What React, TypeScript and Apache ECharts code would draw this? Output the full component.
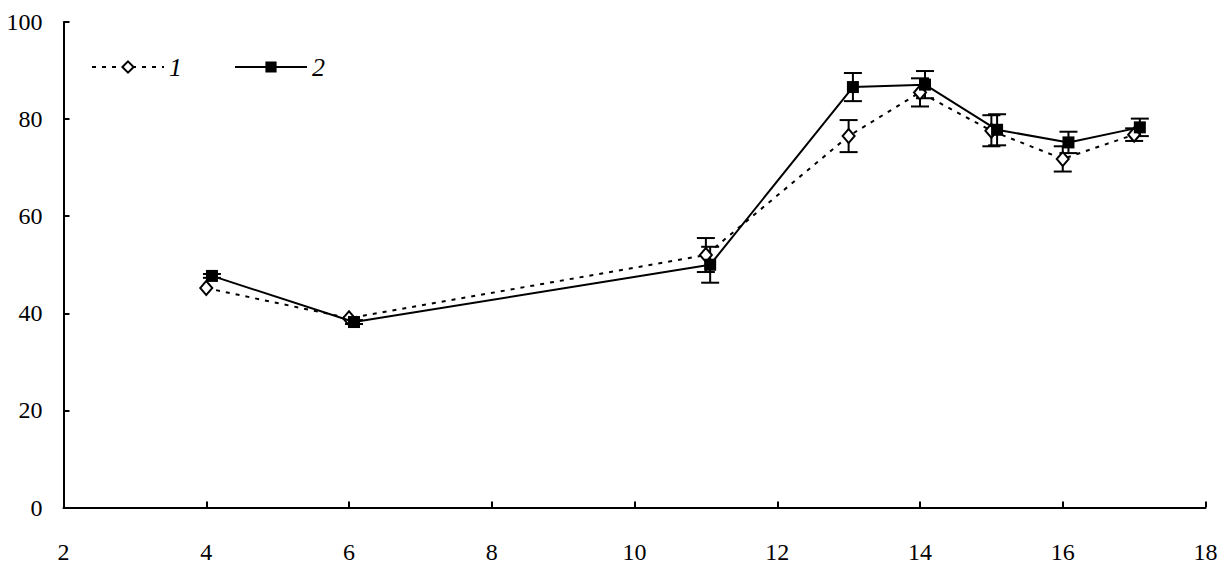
import React, { useEffect, useRef } from "react";
import * as echarts from "echarts";

const xTicks = [2, 4, 6, 8, 10, 12, 14, 16, 18];
const xs1 = [4, 6, 11, 13, 14, 15, 16, 17];
const ys1 = [45.2, 39.0, 52.0, 76.5, 85.5, 77.6, 71.8, 76.8];
const err1 = [0, 0, 3.5, 3.3, 2.9, 3.2, 2.6, 1.3];
const xs2 = [4.08, 6.07, 11.06, 13.06, 14.07, 15.08, 16.08, 17.08];
const ys2 = [47.7, 38.2, 50.0, 86.6, 87.1, 77.8, 75.2, 78.3];
const err2 = [0.4, 0.4, 3.7, 2.9, 2.8, 3.2, 2.2, 1.8];
const names = ["1", "2"];

const FONT = "'Liberation Serif', 'Times New Roman', serif";

function errData(xs: number[], ys: number[], es: number[]) {
  return xs
    .map((x, i) => [x, ys[i] - es[i], ys[i] + es[i], es[i]])
    .filter((d) => d[3] > 0);
}

function renderErr(params: any, api: any) {
  const x = api.value(0);
  const lo = api.value(1);
  const hi = api.value(2);
  const top = api.coord([x, hi]);
  const bot = api.coord([x, lo]);
  const hw = 9;
  const st = { stroke: "#000", lineWidth: 2 };
  return {
    type: "group",
    children: [
      { type: "line", shape: { x1: top[0], y1: top[1], x2: bot[0], y2: bot[1] }, style: st },
      { type: "line", shape: { x1: top[0] - hw, y1: top[1], x2: top[0] + hw, y2: top[1] }, style: st },
      { type: "line", shape: { x1: bot[0] - hw, y1: bot[1], x2: bot[0] + hw, y2: bot[1] }, style: st },
    ],
  };
}

export default function App() {
  const ref = useRef<HTMLDivElement>(null);
  useEffect(() => {
    document.body.style.margin = "0";
    const chart = echarts.init(ref.current!, null, { renderer: "svg" });
    chart.setOption({
      animation: false,
      backgroundColor: "#fff",
      grid: { left: 63.5, right: 21.5, top: 22, bottom: 72.5 },
      legend: {
        data: names,
        left: 86,
        top: 49,
        itemWidth: 72,
        itemHeight: 14,
        itemGap: 52,
        textStyle: { fontFamily: FONT, fontStyle: "italic", fontSize: 26, color: "#000" },
      },
      xAxis: {
        type: "value",
        min: xTicks[0],
        max: xTicks[xTicks.length - 1],
        interval: 2,
        splitLine: { show: false },
        axisLine: { lineStyle: { color: "#000", width: 2 } },
        axisTick: { inside: true, length: 6, lineStyle: { color: "#000", width: 2 } },
        axisLabel: { fontFamily: FONT, fontSize: 24, color: "#000", margin: 32 },
      },
      yAxis: {
        type: "value",
        min: 0,
        max: 100,
        interval: 20,
        splitLine: { show: false },
        axisLine: { show: true, lineStyle: { color: "#000", width: 2 } },
        axisTick: { show: true, inside: true, length: 6, lineStyle: { color: "#000", width: 2 } },
        axisLabel: { fontFamily: FONT, fontSize: 24, color: "#000", margin: 21 },
      },
      series: [
        {
          type: "custom",
          name: "err1",
          renderItem: renderErr,
          data: errData(xs1, ys1, err1),
          z: 3,
        },
        {
          type: "custom",
          name: "err2",
          renderItem: renderErr,
          data: errData(xs2, ys2, err2),
          z: 3,
        },
        {
          type: "line",
          name: names[0],
          data: xs1.map((x, i) => [x, ys1[i]]),
          symbol: "diamond",
          symbolSize: [12, 14],
          showAllSymbol: true,
          lineStyle: { color: "#000", width: 2, type: [4, 6] },
          itemStyle: { color: "#fff", borderColor: "#000", borderWidth: 2 },
          z: 4,
        },
        {
          type: "line",
          name: names[1],
          data: xs2.map((x, i) => [x, ys2[i]]),
          symbol: "rect",
          symbolSize: 12,
          showAllSymbol: true,
          lineStyle: { color: "#000", width: 2 },
          itemStyle: { color: "#000", borderColor: "#000", borderWidth: 0 },
          z: 5,
        },
      ],
    });
    return () => chart.dispose();
  }, []);
  return <div ref={ref} style={{ width: 1227, height: 580 }} />;
}
